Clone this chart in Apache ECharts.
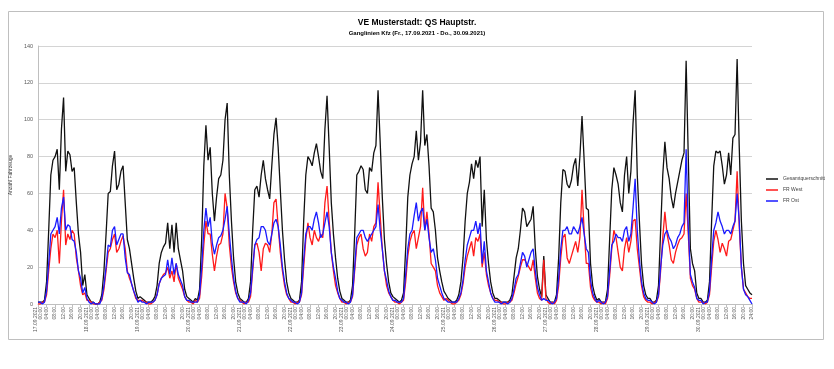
<!DOCTYPE html>
<html>
<head>
<meta charset="utf-8">
<script src="https://cdn.jsdelivr.net/npm/echarts@6/dist/echarts.min.js"></script>
<style>
html,body{margin:0;padding:0;background:#fff;}
#c{width:834px;height:369px;}
</style>
</head>
<body>
<div id="c"></div>
<script>
// ---- data (hourly, 17.09.2021 00:00 .. 01.10.2021 00:00) ----
const days = ['17.09.2021','18.09.2021','19.09.2021','20.09.2021','21.09.2021','22.09.2021','23.09.2021',
              '24.09.2021','25.09.2021','26.09.2021','27.09.2021','28.09.2021','29.09.2021','30.09.2021'];
const hours = ['00:00','01:00','02:00','03:00','04:00','05:00','06:00','07:00','08:00','09:00','10:00','11:00',
               '12:00','13:00','14:00','15:00','16:00','17:00','18:00','19:00','20:00','21:00','22:00','23:00'];
const endLabel = '24:00';

const gesamt = [
1,1,1,2,12,40,70,78,80,84,62,95,112,72,83,81,72,74,55,38,28,10,16,5,
3,1,1,0,0,1,5,18,38,60,61,75,83,62,65,72,75,55,35,30,22,14,7,3,
4,3,2,1,1,1,2,4,10,22,28,31,33,44,30,43,28,44,30,24,18,8,4,3,
2,1,3,2,8,35,75,97,78,85,60,45,58,68,70,78,100,109,70,45,25,12,6,3,
2,1,1,3,12,40,62,64,58,70,78,68,62,57,75,92,101,85,62,40,24,12,6,3,
2,1,1,2,12,45,70,80,78,75,82,87,80,72,68,95,113,85,55,38,25,14,7,3,
2,1,1,2,10,38,70,72,75,73,62,60,74,72,82,86,116,88,58,35,22,12,6,4,
3,2,1,2,6,30,58,70,76,80,94,78,88,116,86,92,75,52,50,40,25,18,12,7,
5,3,2,1,1,2,5,12,25,45,60,66,76,68,78,74,80,42,62,35,22,12,6,3,
3,2,1,1,1,1,2,5,15,25,30,40,52,50,42,44,46,53,30,15,8,4,26,5,
3,1,1,1,5,25,55,73,72,65,63,67,75,79,64,80,102,78,52,51,22,10,5,2,
3,1,1,1,8,35,62,74,70,65,55,50,70,80,60,72,98,116,70,45,22,10,5,3,
3,1,1,2,10,40,70,88,74,68,58,52,60,66,72,78,82,132,80,30,22,18,6,3,
3,1,1,2,12,45,75,83,82,83,75,65,70,82,70,90,92,133,85,45,22,10,8,6,
5
];
const frWest = [
0,0,1,1,5,18,30,38,36,40,22,45,62,32,38,35,40,38,25,18,10,5,6,2,
2,1,0,0,0,1,2,8,18,28,30,35,38,28,30,34,37,30,18,14,11,7,3,2,
2,2,1,1,0,0,1,2,5,11,14,16,17,20,14,18,12,22,14,11,8,4,2,1,
1,0,2,1,3,15,32,45,38,38,27,18,26,32,33,38,60,52,32,20,12,6,3,2,
1,0,1,1,4,18,32,33,28,18,30,33,32,28,38,55,57,42,28,18,10,5,3,1,
1,0,1,1,5,20,35,44,36,32,40,36,34,38,36,55,64,45,28,18,10,6,3,1,
1,0,1,1,4,18,32,36,38,30,26,28,38,34,42,44,66,48,30,18,10,6,4,2,
1,1,0,1,2,12,26,34,38,40,30,36,42,63,40,50,38,22,20,18,10,6,4,2,
3,2,1,0,0,1,2,5,11,20,26,30,34,26,36,34,38,20,28,16,10,6,3,2,
2,1,1,0,0,1,1,2,6,11,15,20,24,24,22,20,18,24,14,6,3,2,24,3,
1,0,1,0,2,10,25,36,38,25,22,26,30,34,28,36,62,40,22,22,9,4,2,1,
1,0,1,0,3,15,30,40,36,28,20,18,30,36,28,34,45,46,30,20,10,4,2,1,
1,0,1,1,4,18,36,50,38,32,24,22,28,32,35,36,38,60,38,14,10,8,3,1,
1,1,0,1,5,20,34,40,35,28,33,30,26,34,35,40,45,72,42,20,8,6,4,3,
3
];
const frOst = [
1,1,0,1,7,22,38,40,42,47,38,52,58,40,43,42,35,34,28,18,14,6,9,3,
1,0,1,0,0,0,3,10,20,32,31,40,42,32,35,38,38,25,17,16,11,7,4,1,
2,1,1,0,1,1,1,2,5,11,14,15,16,24,16,25,16,22,16,13,10,4,2,2,
1,1,1,1,5,20,40,52,42,47,33,27,32,36,37,40,46,53,38,25,14,7,3,1,
1,1,0,2,6,20,32,35,36,42,42,40,34,32,38,44,46,42,32,20,12,6,3,2,
1,1,0,1,6,24,38,42,42,40,46,50,44,36,38,44,50,42,28,20,14,7,3,2,
1,1,0,1,5,20,36,38,40,40,36,34,36,38,40,42,54,40,30,18,13,7,4,2,
2,1,1,1,3,16,30,38,40,48,55,45,50,52,40,46,36,28,30,24,14,10,6,3,
2,1,1,1,1,1,3,6,13,24,32,36,40,40,45,38,44,22,34,18,12,6,3,1,
1,1,0,1,1,0,1,3,8,14,16,22,28,26,20,24,28,30,18,9,5,2,3,2,
2,1,0,1,3,14,30,40,40,42,38,38,42,40,38,42,47,38,30,28,13,6,3,1,
2,1,0,1,4,18,32,34,38,36,36,34,40,42,34,38,52,68,40,24,12,6,3,2,
2,1,0,1,5,20,32,38,40,36,34,30,32,36,38,42,44,84,42,16,12,9,3,2,
2,0,1,1,7,25,40,44,50,45,42,38,40,40,38,42,45,60,45,20,8,5,4,2,
0
];
const seriesNames = ['Gesamtquerschnitt','FR West','FR Ost'];
const yTicks = [0,20,40,60,80,100,120,140];

// categories built from days x hours
const categories = [];
days.forEach(d => hours.forEach(h => categories.push(d + ' ' + h)));
categories.push(days[days.length-1] + ' ' + endLabel);

const FONT = 'Liberation Sans';
const chart = echarts.init(document.getElementById('c'), null, {renderer:'canvas'});
chart.setOption({
  animation:false,
  backgroundColor:'#ffffff',
  textStyle:{fontFamily:FONT},
  title:{
    text:'VE Musterstadt: QS Hauptstr.',
    subtext:'Ganglinien Kfz (Fr., 17.09.2021 - Do., 30.09.2021)',
    left:'center', top:13, itemGap:3,
    textStyle:{fontFamily:FONT,fontSize:8.5,fontWeight:'bold',color:'#000'},
    subtextStyle:{fontFamily:FONT,fontSize:6,fontWeight:'bold',color:'#000'}
  },
  legend:{
    orient:'vertical', left:761, top:170,
    data:seriesNames,
    icon:'rect', itemWidth:12, itemHeight:1.5, itemGap:3,
    textStyle:{fontFamily:FONT,fontSize:5,color:'#404040',lineHeight:8}
  },
  graphic:[{
    type:'rect', silent:true, z:-1,
    shape:{x:8.5,y:11.5,width:815,height:328},
    style:{fill:'none',stroke:'#bfbfbf',lineWidth:1}
  }],
  grid:{left:37,right:82,top:46,bottom:65,containLabel:false},
  xAxis:{
    type:'category', boundaryGap:false, data:categories,
    axisLine:{lineStyle:{color:'#bfbfbf'}},
    axisTick:{show:true,interval:3,length:3,lineStyle:{color:'#bfbfbf'}},
    axisLabel:{
      interval:3, rotate:90, fontSize:5, color:'#595959', margin:3, fontFamily:FONT,
      formatter:function(v){
        const p = v.split(' ');
        return p[1]==='00:00' ? p[0]+'\n'+p[1] : p[1];
      }
    },
    splitLine:{show:false}
  },
  yAxis:{
    type:'value', min:yTicks[0], max:yTicks[yTicks.length-1], interval:20,
    name:'Anzahl Fahrzeuge', nameLocation:'middle', nameRotate:90, nameGap:16,
    nameTextStyle:{fontFamily:FONT,fontSize:5,color:'#404040'},
    axisLine:{show:true,lineStyle:{color:'#bfbfbf'}},
    axisTick:{show:false},
    axisLabel:{fontSize:5.5,color:'#595959',margin:5,fontFamily:FONT},
    splitLine:{lineStyle:{color:'#d4d4d4',width:1}}
  },
  series:[
    {name:seriesNames[0],type:'line',data:gesamt,showSymbol:false,symbol:'none',
     lineStyle:{color:'#111111',width:1.3},itemStyle:{color:'#111111'}},
    {name:seriesNames[1],type:'line',data:frWest,showSymbol:false,symbol:'none',
     lineStyle:{color:'#ff1a1a',width:1.3},itemStyle:{color:'#ff1a1a'}},
    {name:seriesNames[2],type:'line',data:frOst,showSymbol:false,symbol:'none',
     lineStyle:{color:'#1a1aff',width:1.3},itemStyle:{color:'#1a1aff'}}
  ]
});
</script>
</body>
</html>
